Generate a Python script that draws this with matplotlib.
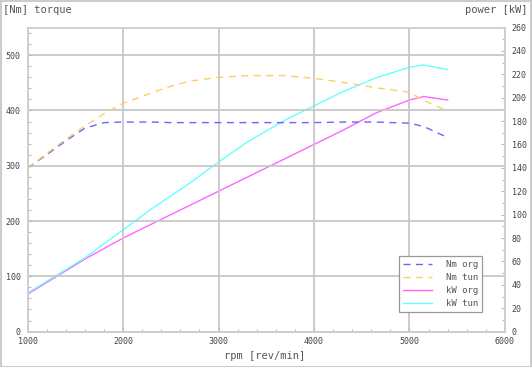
import matplotlib
matplotlib.use("Agg")
import matplotlib.pyplot as plt
from matplotlib.ticker import MultipleLocator
from matplotlib.patches import Rectangle

# readings
rpm = [1000, 1200, 1400, 1600, 1800, 2000, 2300, 2500, 2700, 3000,
       3300, 3700, 4000, 4300, 4650, 5000, 5150, 5400]
nm_org = [296, 320, 345, 368, 378, 379, 379, 378, 378, 378,
          378, 378, 378, 379, 379, 377, 371, 351]
nm_tun = [296, 322, 348, 372, 394, 413, 432, 444, 453, 460,
          463, 463, 458, 451, 441, 433, 418, 399]
kw_org = [32, 42, 52, 62, 71, 80, 92, 100, 108, 120,
          132, 148, 160, 172, 187, 198, 201, 198]
kw_tun = [33, 43, 53, 63, 75, 87, 105, 116, 127, 145,
          162, 181, 193, 205, 217, 226, 228, 224]

txt = '#555555'
grid_c = '#c8c8c8'
mono = 'DejaVu Sans Mono'

fig = plt.figure(figsize=(5.32, 3.67), dpi=100, facecolor='white')
fig.patches.append(Rectangle((0.001, 0.001), 0.997, 0.997, transform=fig.transFigure,
                             fill=False, edgecolor='#cccccc', linewidth=1.5))

ax = fig.add_axes([0.052, 0.0965, 0.897, 0.8285])
ax2 = ax.twinx()

ax.set_xlim(1000, 6000)
ax.set_ylim(0, 550)
ax2.set_ylim(0, 260)

l1, = ax.plot(rpm, nm_org, color='#6666ff', lw=1, dashes=(5, 4))
l2, = ax.plot(rpm, nm_tun, color='#ffcc66', lw=1, dashes=(5, 4))
l3, = ax2.plot(rpm, kw_org, color='#ff66ff', lw=1)
l4, = ax2.plot(rpm, kw_tun, color='#66ffff', lw=1)

ax.xaxis.set_major_locator(MultipleLocator(1000))
ax.xaxis.set_minor_locator(MultipleLocator(200))
ax.yaxis.set_major_locator(MultipleLocator(100))
ax.yaxis.set_minor_locator(MultipleLocator(20))
ax2.yaxis.set_major_locator(MultipleLocator(20))
ax2.yaxis.set_minor_locator(MultipleLocator(10))

ax.grid(True, which='major', color=grid_c, lw=1.3)
ax.set_axisbelow(True)

for a in (ax, ax2):
    for s in a.spines.values():
        s.set_color('#d0d0d0')
        s.set_linewidth(1.2)
    a.tick_params(which='both', direction='in', colors='#bbbbbb', labelcolor='#444444',
                  labelsize=6, length=3, width=0.8)
    a.tick_params(which='minor', length=2)
ax.tick_params(axis='x', pad=4)
ax.tick_params(axis='y', pad=5)
ax2.tick_params(axis='y', pad=5)
for lab in ax.get_xticklabels() + ax.get_yticklabels() + ax2.get_yticklabels():
    lab.set_family(mono)

fig.text(0.006, 0.972, '[Nm] torque', family=mono, fontsize=7.5, color=txt,
         ha='left', va='center')
fig.text(0.992, 0.972, 'power [kW]', family=mono, fontsize=7.5, color=txt,
         ha='right', va='center')
fig.text(0.498, 0.03, 'rpm [rev/min]', family=mono, fontsize=7.5, color=txt,
         ha='center', va='center')

leg = ax.legend([l1, l2, l3, l4], ['Nm org', 'Nm tun', 'kW org', 'kW tun'],
                loc='upper right', bbox_to_anchor=(0.962, 0.262),
                prop={'family': mono, 'size': 6.5}, labelcolor=txt,
                fancybox=False, framealpha=1, edgecolor='#999999',
                handlelength=3.2, handletextpad=1.6, labelspacing=0.45,
                borderpad=0.4)
leg.get_frame().set_linewidth(0.9)
leg.set_zorder(5)
ax.set_zorder(ax2.get_zorder() + 1)
ax.patch.set_visible(False)

fig.savefig('out.png', dpi=100)
plt.close(fig)
